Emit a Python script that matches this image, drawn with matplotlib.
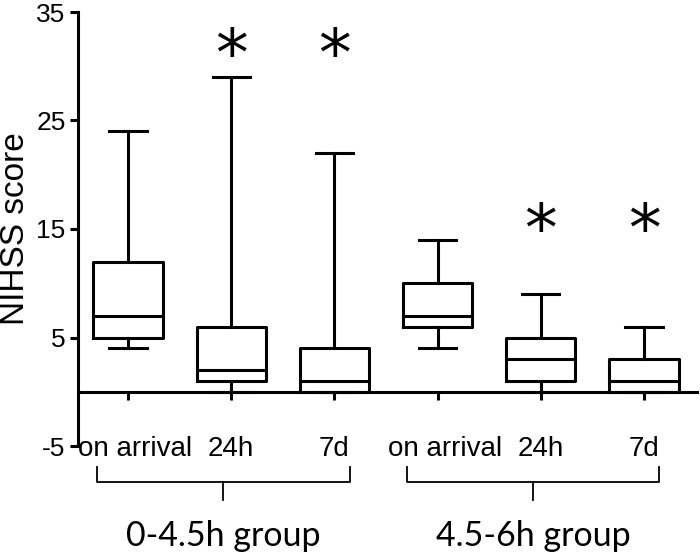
import matplotlib
matplotlib.use("Agg")
import matplotlib.pyplot as plt
import matplotlib.transforms as mtransforms

plt.rcParams["axes.unicode_minus"] = False

# box statistics (NIHSS score)
positions = [1, 2, 3, 4, 5, 6]
tick_labels = ["on arrival", "24h", "7d", "on arrival", "24h", "7d"]
whis_lo = [4, 0, 0, 4, 0, 0]
q1 = [5, 1, 0, 6, 1, 0]
medians = [7, 2, 1, 7, 3, 1]
q3 = [12, 6, 4, 10, 5, 3]
whis_hi = [24, 29, 22, 14, 9, 6]
significant = [False, True, True, False, True, True]
star_y = [30.8, 30.8, 30.8, 14.6, 14.6, 14.6]
groups = ["0-4.5h group", "4.5-6h group"]
group_members = [[1, 2, 3], [4, 5, 6]]

stats = []
for i in range(len(positions)):
    stats.append({"whislo": whis_lo[i], "q1": q1[i], "med": medians[i],
                  "q3": q3[i], "whishi": whis_hi[i], "fliers": []})

fig = plt.figure(figsize=(7, 5.53), dpi=100)
ax = fig.add_axes([78/700, 1-446/553, (697-78)/700, (446-12)/553])

lw = 2.2
ax.bxp(stats, positions=positions, widths=0.67, capwidths=0.36,
       showfliers=False, patch_artist=False,
       boxprops=dict(color="black", linewidth=lw),
       whiskerprops=dict(color="black", linewidth=lw),
       capprops=dict(color="black", linewidth=lw),
       medianprops=dict(color="black", linewidth=lw))

ax.set_xlim(0.515, 6.514)
ax.set_ylim(-5, 35)
ax.set_yticks([-5, 5, 15, 25, 35])
ax.set_xticks(positions)
ax.set_xticklabels(tick_labels)

for s in ["top", "right"]:
    ax.spines[s].set_visible(False)
ax.spines["bottom"].set_position(("data", 0))
for s in ["left", "bottom"]:
    ax.spines[s].set_linewidth(lw)

ax.tick_params(axis="y", length=6, width=lw, pad=3, labelsize=19)
ax.tick_params(axis="x", length=6, width=lw, pad=26, labelsize=20)
for lab in ax.get_xticklabels() + ax.get_yticklabels():
    lab.set_family("Liberation Sans")
# "on arrival" sits a little right of its tick in the original
shift = mtransforms.ScaledTranslation(7/100, 0, fig.dpi_scale_trans)
for lab in ax.get_xticklabels():
    if lab.get_text() == "on arrival":
        lab.set_transform(lab.get_transform() + shift)

ax.set_ylabel("NIHSS score", fontsize=24, family="Liberation Sans", labelpad=4)

# asterisks for significant differences
for p, sig, y in zip(positions, significant, star_y):
    if sig:
        ax.text(p, y, "*", ha="center", va="center", fontsize=47,
                family="DejaVu Sans")

# group braces
for name, members in zip(groups, group_members):
    left = members[0] - 0.3
    right = members[-1] + 0.15
    mid = (left + right) / 2
    ax.plot([left, left, right, right], [-6.9, -8.3, -8.3, -6.9],
            color="black", linewidth=1.3, clip_on=False)
    ax.plot([mid, mid], [-8.3, -10.0], color="black", linewidth=1.3,
            clip_on=False)
    ax.text(mid, -13.3, name, ha="center", va="center", fontsize=24.5,
            family="Lato")

fig.savefig("out.png", dpi=100)
